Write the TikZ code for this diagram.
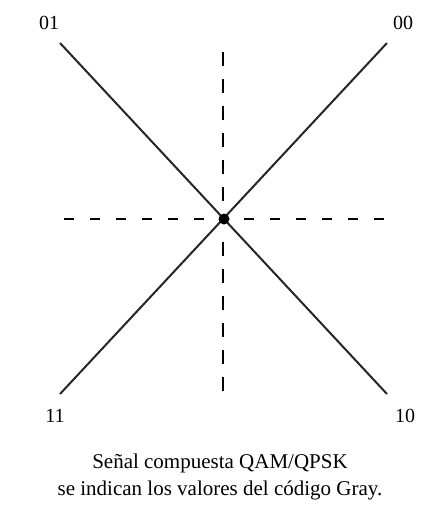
\documentclass[tikz,border=0pt]{standalone}
\usepackage{fontspec}
\setmainfont{Liberation Serif}
\usetikzlibrary{positioning}

\begin{document}
\begin{tikzpicture}[
    x=1pt, y=-1pt,
    diag/.style={line width=2pt, draw=black!85},
    hguide/.style={line width=2.2pt, draw=black, dash pattern=on 10pt off 16pt},
    vguide/.style={line width=2.2pt, draw=black, dash pattern=on 14pt off 13pt},
    code/.style={font=\fontsize{20}{22}\selectfont, inner sep=0pt},
    caption/.style={font=\fontsize{21}{27}\selectfont, align=center, inner sep=0pt}
]
\useasboundingbox (0,0) rectangle (436,509);

% Origin
\coordinate (c) at (224,219);

% Diagonal ends
\coordinate (ul) at (60,43);
\coordinate (ur) at (387,43);
\coordinate (ll) at (60,394);
\coordinate (lr) at (387,394);

% Guide axes ends
\coordinate (hw) at (64,219);
\coordinate (hwi) at (205,219);
\coordinate (hei) at (244,219);
\coordinate (he) at (384,219);
\coordinate (vn) at (223,52);
\coordinate (vni) at (223,202);
\coordinate (vsi) at (223,242);
\coordinate (vs) at (223,393);

% Diagonals
\draw[diag] (ul) -- (lr);
\draw[diag] (ur) -- (ll);

% Dashed axes
\draw[hguide] (hw) -- (hwi);
\draw[hguide] (hei) -- (he);
\draw[vguide] (vn) -- (vni);
\draw[vguide] (vsi) -- (vs);

\fill (c) circle (5.5pt);

% Gray code labels
\node[code] (b01) at (49,23) {01};
\node[code] (b00) at (403,23) {00};
\node[code] (b11) at (55,416) {11};
\node[code] (b10) at (405,416) {10};

% Caption
\node[caption] (cap) at (220,477) {Señal compuesta QAM/QPSK\\se indican los valores del código Gray.};

\end{tikzpicture}
\end{document}
